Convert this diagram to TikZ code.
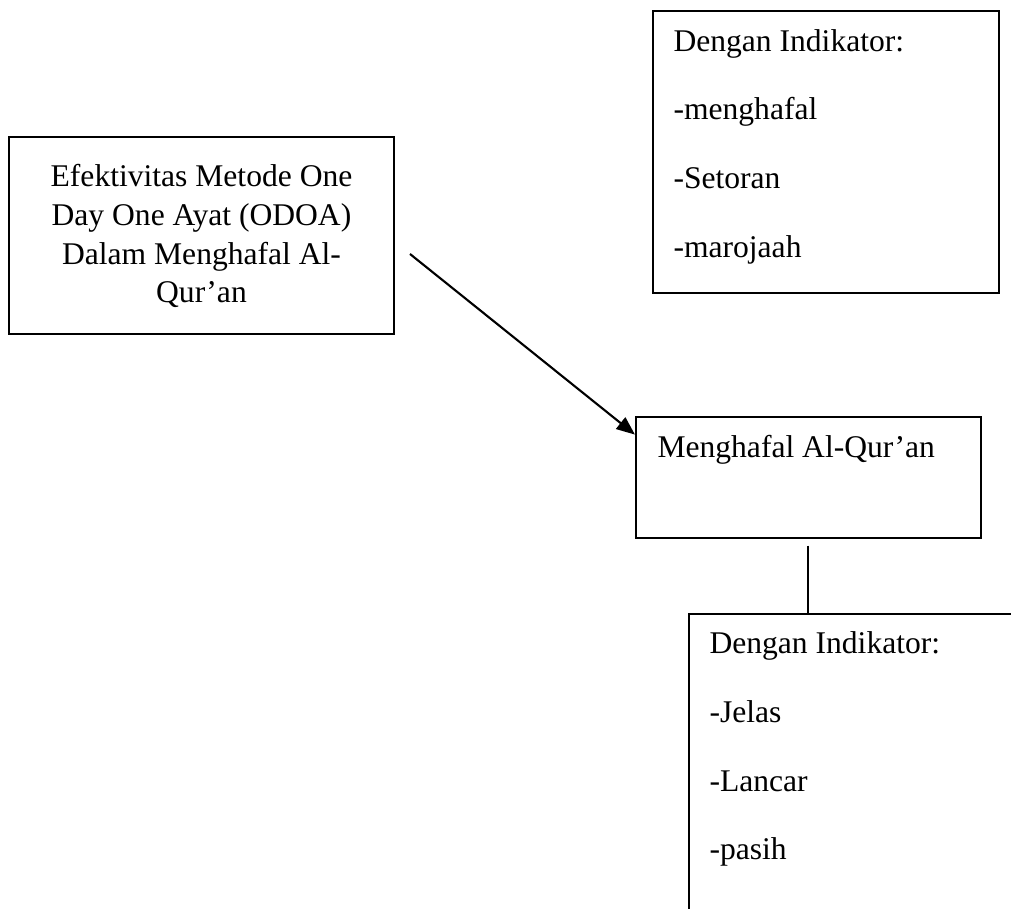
\documentclass[tikz,border=0pt]{standalone}
\usepackage{fontspec}
\setmainfont{Liberation Serif}
\usetikzlibrary{arrows.meta}
\tikzset{
  kotak/.style={draw, line width=0.8pt, inner sep=0pt},
  teks/.style={inner sep=0pt, font=\fontsize{12pt}{14pt}\selectfont},
  panah/.style={line width=0.8pt, -{Triangle[length=7pt,width=5.6pt]}}
}
\begin{document}
\begin{tikzpicture}[x=0.38pt, y=-0.38pt]
            \clip (0,0) rectangle (1011,909);

            % kotak
            \node[kotak, minimum width=385*0.38pt, minimum height=197*0.38pt] (efek) at (201.5,235.5) {};
            \node[kotak, minimum width=346*0.38pt, minimum height=282*0.38pt] (ind1) at (826,151.7) {};
            \node[kotak, minimum width=345*0.38pt, minimum height=121.3*0.38pt] (hafal) at (808.5,477.3) {};
            \node[kotak, anchor=north west, minimum width=400*0.38pt, minimum height=400*0.38pt] (ind2) at (688,613.3) {};

            % teks
            \node[teks, anchor=base] (e1) at (201.5,187) {Efektivitas Metode One};
            \node[teks, anchor=base] (e2) at (201.5,225.7) {Day One Ayat (ODOA)};
            \node[teks, anchor=base] (e3) at (201.5,264.4) {Dalam Menghafal Al-};
            \node[teks, anchor=base] (e4) at (201.5,303) {Qur’an};

            \node[teks, anchor=base west] (i1) at (673,52) {Dengan Indikator:};
            \node[teks, anchor=base west] (i2) at (673,120) {-menghafal};
            \node[teks, anchor=base west] (i3) at (673,189) {-Setoran};
            \node[teks, anchor=base west] (i4) at (673,258) {-marojaah};

            \node[teks, anchor=base west] (h1) at (657,458) {Menghafal Al-Qur’an};

            \node[teks, anchor=base west] (j1) at (709,654) {Dengan Indikator:};
            \node[teks, anchor=base west] (j2) at (709,723) {-Jelas};
            \node[teks, anchor=base west] (j3) at (709,792) {-Lancar};
            \node[teks, anchor=base west] (j4) at (709,860) {-pasih};

            % garis
            \coordinate (awal) at (410,254);
            \coordinate (bawah) at (808,545.7);
            \draw[panah] (awal) -- ([yshift=-19*0.38pt]hafal.north west);
            \draw[line width=0.8pt] (bawah) -- (bawah |- ind2.north);
\end{tikzpicture}
\end{document}
